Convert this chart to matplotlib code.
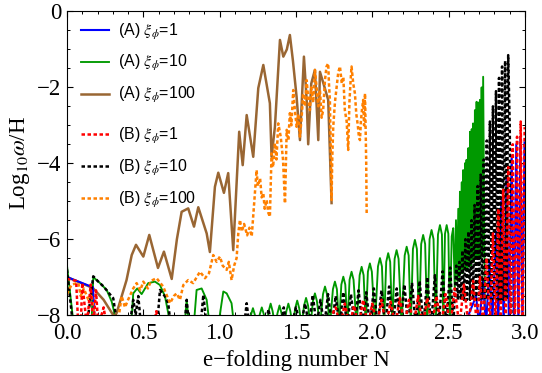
import matplotlib
matplotlib.use("Agg")
import matplotlib.pyplot as plt
from matplotlib.ticker import MultipleLocator

plt.rcParams['font.family'] = 'Liberation Serif'
plt.rcParams['mathtext.fontset'] = 'stix'

# values: e-folding number N, Log10 omega/H
# (A) xi_phi = 1
a1_N = [0.00, 0.17, 0.183, 2.60, 2.68, 2.70, 2.725, 2.745, 2.768, 2.785,
        2.81, 2.825, 2.845, 2.86, 2.88, 2.895, 2.913, 2.928, 2.943, 2.957,
        2.97, 2.983, 2.997]
a1_y = [-7.00, -7.27, -8.3, -8.3, -7.5, -8.3, -7.1, -8.3, -6.6, -8.3,
        -5.8, -8.3, -5.0, -8.3, -4.4, -8.3, -3.8, -8.3, -3.5, -8.3,
        -3.3, -8.3, -3.45]

# (A) xi_phi = 10
a10_N = [0.00, 0.045, 0.16, 0.172, 0.216, 0.26, 0.293, 0.314, 0.33,
         0.42, 0.434, 0.46, 0.489, 0.532, 0.576, 0.609, 0.642, 0.663, 0.675,
         0.77, 0.784, 0.80, 0.83, 0.849, 0.882, 0.915, 0.935,
         0.99, 1.024, 1.046, 1.078, 1.095, 1.19,
         1.205, 1.218, 1.231, 1.247, 1.263, 1.276, 1.289, 1.305,
         1.321, 1.334, 1.347, 1.363, 1.379, 1.392, 1.405, 1.421,
         1.437, 1.45, 1.463, 1.479, 1.495, 1.508, 1.521, 1.537,
         1.553, 1.566, 1.579, 1.595, 1.611, 1.624, 1.637, 1.657,
         1.677, 1.69, 1.703, 1.722, 1.742, 1.755, 1.768, 1.782,
         1.797, 1.81, 1.823, 1.837, 1.851, 1.864, 1.877, 1.897,
         1.917, 1.93, 1.943, 1.957, 1.971, 1.984, 1.997, 2.017,
         2.037, 2.05, 2.063, 2.077, 2.091, 2.104, 2.117, 2.131,
         2.146, 2.159, 2.172, 2.192, 2.212, 2.225, 2.238, 2.252,
         2.266, 2.279, 2.292, 2.306, 2.32, 2.333, 2.346, 2.36,
         2.375, 2.388, 2.401, 2.415, 2.43, 2.443, 2.456, 2.465,
         2.476, 2.487, 2.498, 2.508, 2.52, 2.53,
         2.54, 2.548, 2.556, 2.563, 2.569, 2.574, 2.58, 2.586, 2.591, 2.595,
         2.601, 2.607, 2.612, 2.617, 2.623, 2.629, 2.635, 2.64, 2.645, 2.651,
         2.656, 2.66, 2.666, 2.672, 2.678, 2.683, 2.689, 2.694, 2.70, 2.705,
         2.711, 2.716, 2.721, 2.726, 2.738]
a10_y = [-6.70, -8.3, -8.3, -7.00, -7.16, -7.34, -7.65, -8.0, -8.3,
         -8.3, -7.43, -7.30, -7.45, -7.16, -7.12, -7.21, -7.51, -7.95, -8.3,
         -8.3, -7.60, -8.3, -8.3, -7.34, -7.30, -7.60, -8.3,
         -8.3, -7.38, -7.43, -7.69, -8.3, -8.3,
         -8.0, -7.82, -8.0, -8.3, -7.98, -7.80, -7.98, -8.3,
         -7.90, -7.70, -7.90, -8.3, -7.95, -7.75, -7.95, -8.3,
         -7.90, -7.70, -7.90, -8.3, -7.82, -7.62, -7.82, -8.3,
         -7.75, -7.55, -7.75, -8.3, -7.63, -7.43, -7.63, -8.3,
         -7.45, -7.25, -7.45, -8.3, -7.32, -7.12, -7.32, -8.3,
         -7.20, -6.99, -7.20, -8.3, -7.07, -6.86, -7.07, -8.3,
         -6.95, -6.73, -6.95, -8.3, -6.86, -6.64, -6.86, -8.3,
         -6.72, -6.50, -6.72, -8.3, -6.60, -6.37, -6.60, -8.3,
         -6.52, -6.29, -6.52, -8.3, -6.43, -6.20, -6.43, -8.3,
         -6.26, -6.02, -6.26, -8.3, -6.13, -5.89, -6.13, -8.3,
         -6.00, -5.76, -6.00, -8.3, -5.88, -5.63, -5.88, -8.3,
         -5.86, -5.63, -5.86, -8.3, -5.93, -5.71,
         -7.3, -5.50, -7.1, -5.20, -7.0, -4.75, -6.9, -4.50, -6.9, -4.18,
         -6.8, -4.00, -6.8, -3.91, -6.8, -3.60, -6.7, -3.17, -6.7, -3.10,
         -6.6, -2.95, -6.6, -2.60, -6.5, -2.38, -6.5, -2.40, -6.5, -2.33,
         -6.5, -2.00, -6.4, -1.72, -8.3]

# (A) xi_phi = 100
a100_N = [0.00, 0.17, 0.24, 0.31, 0.325, 0.39, 0.424, 0.452, 0.50, 0.539,
          0.596, 0.635, 0.686, 0.72, 0.751, 0.794, 0.832, 0.86, 0.915, 0.936,
          0.969, 0.991, 1.028, 1.056, 1.089, 1.128, 1.151, 1.177, 1.22, 1.253,
          1.286, 1.297, 1.329, 1.34, 1.362, 1.395, 1.417, 1.44, 1.46, 1.48,
          1.504, 1.526, 1.552, 1.57, 1.58, 1.60, 1.624, 1.646, 1.657, 1.68,
          1.711, 1.733]
a100_y = [-7.00, -7.29, -7.60, -8.05, -7.95, -7.08, -6.42, -6.15, -6.46, -5.89,
          -6.76, -6.33, -7.05, -6.00, -5.28, -5.19, -5.67, -5.16, -5.85, -6.34,
          -4.62, -4.25, -4.78, -4.26, -6.29, -3.17, -4.05, -2.73, -3.83, -2.02,
          -1.41, -1.67, -2.42, -3.83, -3.04, -0.75, -1.19, -1.00, -0.62, -1.30,
          -2.25, -3.39, -1.19, -2.33, -3.50, -1.90, -1.54, -3.39, -1.59, -1.90,
          -2.33, -5.05]

# (B) xi_phi = 1
b1_N = [0.00, 0.06, 0.074, 0.09, 0.10, 0.13, 0.155, 0.172, 0.19, 0.205,
        0.24, 0.26, 0.57, 0.585, 0.60,
        1.70, 1.76, 1.79, 1.82, 1.85, 1.88, 1.91, 1.94, 1.97, 2.00, 2.03,
        2.06, 2.09, 2.12, 2.15, 2.18, 2.21, 2.24, 2.27, 2.30, 2.33, 2.36,
        2.39, 2.42, 2.45, 2.48, 2.51, 2.54, 2.57, 2.60, 2.63, 2.66, 2.685,
        2.705, 2.725, 2.748, 2.77, 2.79, 2.808, 2.825, 2.84, 2.857, 2.873,
        2.89, 2.905, 2.92, 2.934, 2.948, 2.96, 2.972, 2.985, 2.998]
b1_y = [-7.05, -7.10, -8.3, -8.3, -7.15, -8.3, -7.20, -8.3, -7.35, -8.3,
        -7.80, -8.3, -8.3, -7.90, -8.3,
        -8.3, -7.80, -8.3, -7.70, -8.3, -7.75, -8.3, -7.60, -8.3, -7.70, -8.3,
        -7.60, -8.3, -7.65, -8.3, -7.55, -8.3, -7.60, -8.3, -7.50, -8.3, -7.55,
        -8.3, -7.50, -8.3, -7.45, -8.3, -7.30, -8.3, -7.20, -8.3, -7.10, -8.3,
        -7.00, -8.3, -6.50, -8.3, -5.85, -8.3, -5.20, -8.3, -4.70, -8.3,
        -4.10, -8.3, -3.50, -8.3, -3.30, -8.3, -2.90, -8.3, -3.05]

# (B) xi_phi = 10
b10_N = [0.00, 0.04, 0.13, 0.172, 0.20, 0.24, 0.27, 0.303, 0.33,
         0.41, 0.434, 0.45, 0.467, 0.485, 0.59, 0.609, 0.64, 0.663, 0.68,
         0.77, 0.784, 0.80, 0.875, 0.893, 0.915, 1.16, 1.177, 1.195,
         1.30, 1.32, 1.34, 1.40, 1.42, 1.44, 1.47,
         1.50, 1.53, 1.56, 1.585, 1.61, 1.635, 1.66, 1.685, 1.71, 1.735,
         1.76, 1.785, 1.81, 1.835, 1.86, 1.885, 1.91, 1.935, 1.96, 1.985,
         2.01, 2.035, 2.06, 2.085, 2.11, 2.135, 2.16, 2.185, 2.21, 2.235,
         2.26, 2.285, 2.31, 2.335, 2.36, 2.385, 2.41, 2.435, 2.46, 2.485,
         2.51, 2.53, 2.55, 2.56,
         2.57, 2.58, 2.59, 2.60, 2.61, 2.62, 2.63, 2.64, 2.65, 2.66,
         2.67, 2.68, 2.69, 2.70, 2.71, 2.72, 2.73, 2.74, 2.75, 2.76,
         2.77, 2.78, 2.79, 2.80, 2.81, 2.82, 2.83, 2.84, 2.85, 2.86,
         2.87, 2.88, 2.89, 2.90, 2.912]
b10_y = [-6.80, -8.3, -8.3, -6.98, -7.10, -7.25, -7.40, -7.56, -8.3,
         -8.3, -7.60, -8.0, -7.50, -8.3, -8.3, -7.34, -7.50, -7.69, -8.3,
         -8.3, -7.60, -8.3, -8.3, -7.47, -8.3, -8.3, -7.69, -8.3,
         -8.3, -7.85, -8.3, -8.3, -7.80, -8.3, -8.3,
         -7.80, -8.3, -7.70, -8.3, -7.47, -8.3, -7.60, -8.3, -7.45, -8.3,
         -7.50, -8.3, -7.40, -8.3, -7.45, -8.3, -7.35, -8.3, -7.40, -8.3,
         -7.30, -8.3, -7.35, -8.3, -7.25, -8.3, -7.30, -8.3, -7.20, -8.3,
         -7.15, -8.3, -7.10, -8.3, -7.00, -8.3, -6.95, -8.3, -6.85, -8.3,
         -6.75, -8.3, -6.70, -7.6,
         -6.60, -7.6, -6.30, -7.6, -6.00, -7.6, -5.80, -7.6, -5.50, -7.6,
         -5.10, -7.6, -4.60, -7.6, -4.30, -7.6, -3.90, -7.6, -3.40, -7.6,
         -2.90, -7.6, -2.50, -7.6, -2.10, -7.6, -1.75, -7.6, -1.45, -7.6,
         -1.30, -7.6, -1.15, -3.00, -8.3]

# (B) xi_phi = 100
b100_N = [0.00, 0.03, 0.074, 0.09, 0.11, 0.14, 0.16, 0.19, 0.33, 0.358,
          0.38, 0.40, 0.434, 0.456, 0.48, 0.50, 0.53, 0.55, 0.587, 0.63,
          0.675, 0.70, 0.718, 0.74, 0.762, 0.794, 0.827, 0.85, 0.871, 0.904,
          0.93, 0.958, 0.98, 1.002, 1.02, 1.046, 1.06, 1.078, 1.095, 1.111,
          1.122, 1.133, 1.145, 1.16, 1.18, 1.195, 1.21, 1.242, 1.25, 1.265,
          1.275, 1.286, 1.295, 1.308, 1.318, 1.329, 1.34, 1.35, 1.362, 1.372,
          1.384, 1.40, 1.415, 1.428, 1.439, 1.45, 1.46, 1.47, 1.482, 1.493,
          1.504, 1.515, 1.526, 1.537, 1.547, 1.558, 1.57, 1.58, 1.591, 1.60,
          1.613, 1.624, 1.635, 1.646, 1.657, 1.668, 1.678, 1.69, 1.70, 1.711,
          1.716, 1.722, 1.727, 1.733, 1.738, 1.744, 1.755, 1.766, 1.777, 1.788,
          1.80, 1.81, 1.82, 1.832, 1.842, 1.85, 1.858, 1.864, 1.875, 1.886,
          1.895, 1.905, 1.912, 1.919, 1.925, 1.932, 1.94, 1.946, 1.952, 1.956,
          1.96, 1.963]
b100_y = [-7.45, -7.20, -7.15, -7.50, -7.30, -7.60, -7.45, -8.3, -8.3, -7.50,
          -7.80, -7.60, -7.30, -7.16, -7.35, -7.12, -7.30, -7.10, -7.03, -7.25,
          -7.69, -7.50, -7.43, -7.60, -7.21, -7.08, -7.16, -7.00, -6.86, -7.03,
          -6.90, -6.42, -6.60, -6.46, -6.70, -6.81, -6.60, -7.08, -6.70, -6.50,
          -5.85, -5.49, -5.80, -5.60, -5.90, -5.70, -5.93, -4.18, -4.60, -4.40,
          -4.90, -4.79, -5.20, -4.97, -5.30, -5.41, -3.74, -4.10, -3.47, -3.90,
          -2.95, -3.30, -3.90, -5.06, -3.12, -3.40, -2.68, -3.00, -2.07, -2.60,
          -3.04, -2.70, -3.30, -2.80, -2.16, -2.50, -1.81, -2.30, -2.60, -2.00,
          -2.40, -1.54, -2.00, -2.50, -2.07, -2.80, -2.60, -1.80, -1.45, -1.37,
          -1.90, -2.33, -3.50, -4.97, -3.80, -3.04, -2.40, -2.00, -1.60, -1.45,
          -1.90, -1.72, -2.60, -2.90, -3.65, -2.40, -1.80, -1.45, -1.90, -2.16,
          -2.70, -3.00, -3.30, -3.39, -2.90, -2.60, -2.33, -3.00, -2.16, -3.04,
          -4.00, -5.32]

labels = [r'(A) $\xi_\phi$=1', r'(A) $\xi_\phi$=10', r'(A) $\xi_\phi$=100',
          r'(B) $\xi_\phi$=1', r'(B) $\xi_\phi$=10', r'(B) $\xi_\phi$=100']

fig = plt.figure(figsize=(5.42, 3.73), dpi=100)
ax = fig.add_axes([0.1236, 0.1555, 0.845, 0.8137])

dots = (0, (1.4, 1.0))
l2, = ax.plot(a10_N, a10_y, color='#009900', lw=1.35)
l3, = ax.plot(a100_N, a100_y, color='#996633', lw=1.8)
l1, = ax.plot(a1_N, a1_y, color='#0000ff', lw=1.5)
l5, = ax.plot(b10_N, b10_y, color='black', lw=1.8, ls=dots)
l6, = ax.plot(b100_N, b100_y, color='#ff8000', lw=1.8, ls=dots)
l4, = ax.plot(b1_N, b1_y, color='#ff0000', lw=1.8, ls=dots)

ax.set_xlim(0, 3.0)
ax.set_ylim(-8, 0)
ax.xaxis.set_major_locator(MultipleLocator(0.5))
ax.xaxis.set_minor_locator(MultipleLocator(0.1))
ax.yaxis.set_major_locator(MultipleLocator(2))
ax.yaxis.set_minor_locator(MultipleLocator(0.5))
ax.xaxis.set_major_formatter(matplotlib.ticker.FormatStrFormatter('%.1f'))
ax.tick_params(which='both', direction='in', top=True, right=True, labelsize=16.5)
ax.tick_params(axis='x', pad=6)
ax.tick_params(axis='y', pad=4)
ax.tick_params(which='major', length=4.5, width=0.8)
ax.tick_params(which='minor', length=2.4, width=0.7)
ax.set_xlabel('e\u2212folding number N', fontsize=16.5, labelpad=4)
ax.set_ylabel(r'Log$_{10}\omega$/H', fontsize=16.5, labelpad=4)

leg_font = {'family': 'Liberation Sans', 'size': 11.5}
leg1 = ax.legend([l1, l2, l3], labels[:3], loc='upper left', bbox_to_anchor=(0.03, 0.967),
                 frameon=False, prop=leg_font, handlelength=1.8, handletextpad=0.55,
                 labelspacing=0.75, borderpad=0, borderaxespad=0)
ax.add_artist(leg1)
ax.legend([l4, l5, l6], labels[3:], loc='upper left', bbox_to_anchor=(0.03, 0.623),
          frameon=False, prop=leg_font, handlelength=1.8, handletextpad=0.55,
          labelspacing=0.75, borderpad=0, borderaxespad=0)

fig.savefig('out.png', dpi=100)
